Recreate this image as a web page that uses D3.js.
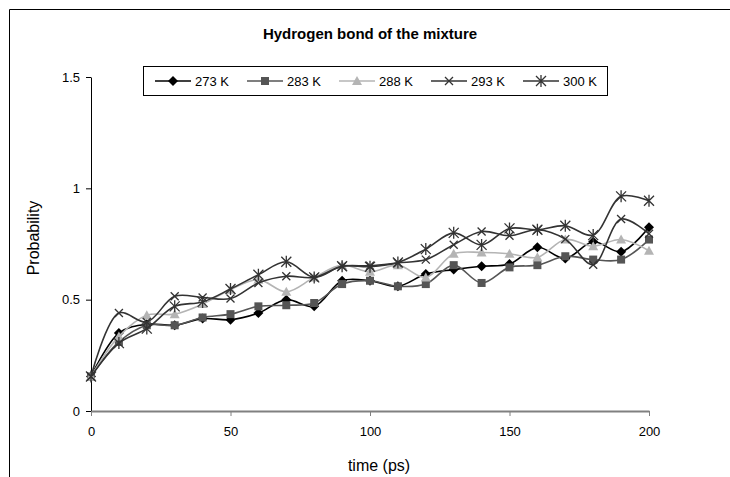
<!DOCTYPE html>
<html>
<head>
<meta charset="utf-8">
<script src="https://cdn.jsdelivr.net/npm/d3@7"></script>
<style>
  body { margin: 0; background: #fff; }
  text { font-family: "Liberation Sans", Arial, sans-serif; }
</style>
</head>
<body>
<div id="chart"></div>
<script>
var svgWidth = 730;
var svgHeight = 477;

// time in ps
var times = [0, 10, 20, 30, 40, 50, 60, 70, 80, 90, 100, 110, 120, 130, 140, 150, 160, 170, 180, 190, 200];

// probability per temperature
var k273 = [0.155, 0.35, 0.39, 0.385, 0.415, 0.41, 0.44, 0.50, 0.47, 0.585, 0.585, 0.56, 0.615, 0.635, 0.65, 0.66, 0.735, 0.685, 0.76, 0.715, 0.825];
var k283 = [0.155, 0.31, 0.385, 0.385, 0.42, 0.435, 0.47, 0.475, 0.485, 0.57, 0.585, 0.56, 0.57, 0.655, 0.575, 0.645, 0.655, 0.695, 0.68, 0.68, 0.77];
var k288 = [0.155, 0.335, 0.43, 0.435, 0.48, 0.545, 0.59, 0.535, 0.60, 0.655, 0.625, 0.655, 0.60, 0.706, 0.712, 0.706, 0.69, 0.77, 0.74, 0.77, 0.72];
var k293 = [0.155, 0.44, 0.40, 0.515, 0.51, 0.505, 0.575, 0.605, 0.60, 0.65, 0.652, 0.665, 0.68, 0.747, 0.806, 0.787, 0.814, 0.772, 0.657, 0.862, 0.796];
var k300 = [0.155, 0.305, 0.37, 0.47, 0.49, 0.548, 0.612, 0.67, 0.60, 0.65, 0.648, 0.667, 0.727, 0.80, 0.746, 0.82, 0.814, 0.832, 0.79, 0.964, 0.944];

var seriesNames = ["273 K", "283 K", "288 K", "293 K", "300 K"];
var xTicks = [0, 50, 100, 150, 200];
var yTicks = [0, 0.5, 1, 1.5];

var series = [
    { name: seriesNames[0], values: k273, color: "#000000", marker: "diamond" },
    { name: seriesNames[1], values: k283, color: "#555555", marker: "square" },
    { name: seriesNames[2], values: k288, color: "#b4b4b4", marker: "triangle" },
    { name: seriesNames[3], values: k293, color: "#333333", marker: "cross" },
    { name: seriesNames[4], values: k300, color: "#333333", marker: "star" }
];

var margin = { top: 77, right: 81, bottom: 66, left: 91 };
var width = svgWidth - margin.left - margin.right;
var height = svgHeight - margin.top - margin.bottom;

var svg = d3.select("#chart")
    .append("svg")
    .attr("width", svgWidth)
    .attr("height", svgHeight);

// outer chart border (right and bottom run off the picture)
svg.append("path")
    .attr("d", "M9.5,477 L9.5,9.5 L730,9.5")
    .attr("fill", "none")
    .attr("stroke", "#000")
    .attr("stroke-width", 1);

svg.append("text")
    .attr("x", 370)
    .attr("y", 39)
    .attr("text-anchor", "middle")
    .style("font-size", "15px")
    .style("font-weight", "bold")
    .text("Hydrogen bond of the mixture");

var chartGroup = svg.append("g")
    .attr("transform", `translate(${margin.left}, ${margin.top})`);

var xScale = d3.scaleLinear().domain([0, 200]).range([0, width]);
var yScale = d3.scaleLinear().domain([0, 1.5]).range([height, 0]);

// y axis
var yAxis = chartGroup.append("g")
    .call(d3.axisLeft(yScale).tickValues(yTicks).tickSize(5).tickSizeOuter(0).tickPadding(6).tickFormat(d3.format("")));
yAxis.select(".domain").attr("stroke", "#000");
yAxis.selectAll("text").style("font-size", "13px").attr("fill", "#000");

// x axis
var xAxis = chartGroup.append("g")
    .attr("transform", `translate(0, ${height})`)
    .call(d3.axisBottom(xScale).tickValues(xTicks).tickSize(5).tickSizeOuter(0).tickPadding(11));
xAxis.select(".domain").attr("stroke", "#808080").attr("stroke-width", 2);
xAxis.selectAll(".tick line").attr("stroke", "#808080");
xAxis.selectAll("text").style("font-size", "13px").attr("fill", "#000");

svg.append("text")
    .attr("x", margin.left + width / 2 + 9)
    .attr("y", 471)
    .attr("text-anchor", "middle")
    .style("font-size", "16px")
    .text("time (ps)");

svg.append("text")
    .attr("transform", `translate(39, ${margin.top + height / 2 - 6}) rotate(-90)`)
    .attr("text-anchor", "middle")
    .style("font-size", "16px")
    .text("Probability");

// marker drawing
function drawMarker(g, type, color) {
    if (type === "diamond") {
        g.append("path").attr("d", "M0,-5 L5,0 L0,5 L-5,0 Z").attr("fill", color);
    } else if (type === "square") {
        g.append("rect").attr("x", -4).attr("y", -4).attr("width", 8).attr("height", 8).attr("fill", color);
    } else if (type === "triangle") {
        g.append("path").attr("d", "M0,-5 L5,4 L-5,4 Z").attr("fill", color);
    } else if (type === "cross") {
        g.append("path").attr("d", "M-4,-4 L4,4 M-4,4 L4,-4").attr("stroke", color).attr("stroke-width", 1.3);
    } else {
        g.append("path").attr("d", "M-5,-5 L5,5 M-5,5 L5,-5 M0,-6 L0,6").attr("stroke", color).attr("stroke-width", 1.3);
    }
}

var line = d3.line()
    .x((d, i) => xScale(times[i]))
    .y(d => yScale(d))
    .curve(d3.curveCatmullRom.alpha(0.5));

series.forEach(function(s) {
    chartGroup.append("path")
        .datum(s.values)
        .attr("fill", "none")
        .attr("stroke", s.color)
        .attr("stroke-width", 1.6)
        .attr("d", line);

    chartGroup.selectAll(null)
        .data(s.values)
        .enter()
        .append("g")
        .attr("transform", (d, i) => `translate(${xScale(times[i])}, ${yScale(d)})`)
        .each(function() { drawMarker(d3.select(this), s.marker, s.color); });
});

// legend
var legend = svg.append("g").attr("transform", "translate(143, 66)");
legend.append("rect")
    .attr("x", 0.5).attr("y", 0.5)
    .attr("width", 464).attr("height", 29)
    .attr("fill", "#fff")
    .attr("stroke", "#000");

series.forEach(function(s, i) {
    var item = legend.append("g").attr("transform", `translate(${12 + i * 92}, 15)`);
    item.append("line")
        .attr("x1", 0).attr("x2", 36)
        .attr("stroke", s.color).attr("stroke-width", 1.6);
    var m = item.append("g").attr("transform", "translate(18, 0)");
    drawMarker(m, s.marker, s.color);
    item.append("text")
        .attr("x", 40).attr("y", 5)
        .style("font-size", "13px")
        .text(s.name);
});
</script>
</body>
</html>
